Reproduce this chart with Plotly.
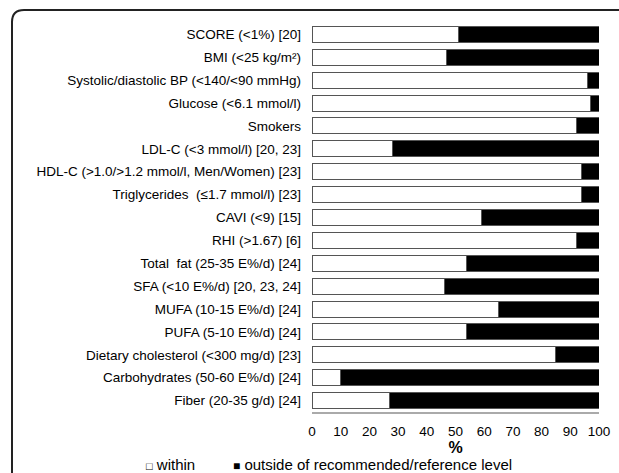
import plotly.graph_objects as go

categories = [
    "SCORE (<1%) [20]",
    "BMI (<25 kg/m²)",
    "Systolic/diastolic BP (<140/<90 mmHg)",
    "Glucose (<6.1 mmol/l)",
    "Smokers",
    "LDL-C (<3 mmol/l) [20, 23]",
    "HDL-C (>1.0/>1.2 mmol/l, Men/Women) [23]",
    "Triglycerides  (≤1.7 mmol/l) [23]",
    "CAVI (<9) [15]",
    "RHI (>1.67) [6]",
    "Total  fat (25-35 E%/d) [24]",
    "SFA (<10 E%/d) [20, 23, 24]",
    "MUFA (10-15 E%/d) [24]",
    "PUFA (5-10 E%/d) [24]",
    "Dietary cholesterol (<300 mg/d) [23]",
    "Carbohydrates (50-60 E%/d) [24]",
    "Fiber (20-35 g/d) [24]",
]
within = [51, 47, 96, 97, 92, 28, 94, 94, 59, 92, 54, 46, 65, 54, 85, 10, 27]
outside = [100 - v for v in within]
x_ticks = [0, 10, 20, 30, 40, 50, 60, 70, 80, 90, 100]

W, H = 619, 473
L, R, T, B = 312, 20, 23, 61
pw, ph = W - L - R, H - T - B

def px2x(p):
    return (p - L) / pw

def py2y(p):
    return (H - B - p) / ph

font = "Liberation Sans, Arial, sans-serif"

fig = go.Figure()
fig.add_trace(go.Bar(
    y=categories, x=within, orientation="h", name="within",
    marker=dict(color="white", line=dict(color="#555555", width=1)),
    width=0.7, showlegend=False,
))
fig.add_trace(go.Bar(
    y=categories, x=outside, orientation="h", name="outside of recommended/reference level",
    marker=dict(color="black", line=dict(color="#555555", width=1)),
    width=0.7, showlegend=False,
))

# rounded frame (top-left corner visible)
r = 12
x0, y0 = 12, 10
x1, y1 = 625, 480
path = (f"M {px2x(x0)},{py2y(y1)} L {px2x(x0)},{py2y(y0 + r)} "
        f"Q {px2x(x0)},{py2y(y0)} {px2x(x0 + r)},{py2y(y0)} "
        f"L {px2x(x1)},{py2y(y0)}")
fig.add_shape(type="path", path=path, xref="paper", yref="paper",
              line=dict(color="#222222", width=2))

fig.add_annotation(x=px2x(144), y=py2y(464), xref="paper", yref="paper",
                   text="<span style='font-size:11px'>□</span> within", showarrow=False,
                   xanchor="left", yanchor="middle",
                   font=dict(family=font, size=15, color="black"))
fig.add_annotation(x=px2x(231), y=py2y(464), xref="paper", yref="paper",
                   text="<span style='font-size:12px'>■</span> outside of recommended/reference level",
                   showarrow=False, xanchor="left", yanchor="middle",
                   font=dict(family=font, size=15, color="black"))

fig.update_layout(
    template="none",
    width=W, height=H,
    margin=dict(l=L, r=R, t=T, b=B, pad=0, autoexpand=False),
    barmode="stack", bargap=0.3,
    plot_bgcolor="white", paper_bgcolor="white",
    font=dict(family=font, size=13.5, color="black"),
    xaxis=dict(range=[0, 100], tickvals=x_ticks, showgrid=False, zeroline=False,
               automargin=False,
               showline=True, linecolor="#aaaaaa", linewidth=2, ticks="",
               tickfont=dict(size=13.5), ticklabelstandoff=6,
               title=dict(text="<b>%</b>", font=dict(size=16), standoff=1)),
    yaxis=dict(autorange="reversed", showgrid=False, zeroline=False, showline=False,
               automargin=False,
               ticks="", ticklabelstandoff=10, tickfont=dict(size=13.5)),
)

fig.write_html("out.html", config={"displayModeBar": False},
               post_script="document.body.style.margin='0';document.body.style.padding='0';")
